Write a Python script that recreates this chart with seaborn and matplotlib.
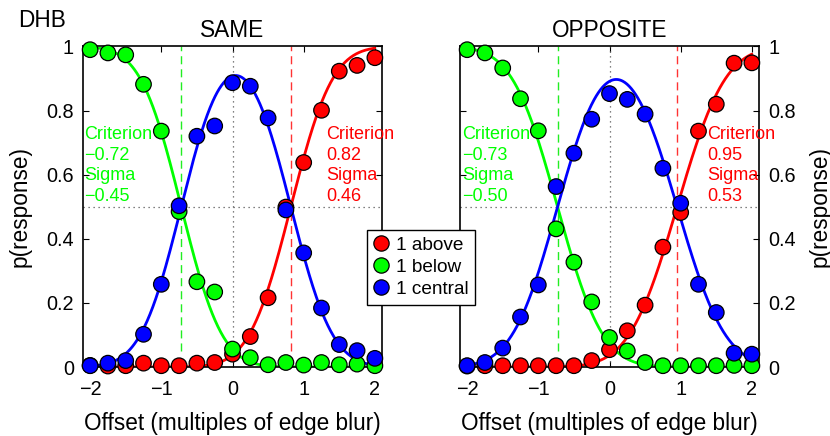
import math
import numpy as np
import pandas as pd
import matplotlib
matplotlib.use("Agg")
import matplotlib.pyplot as plt
from matplotlib.lines import Line2D
import seaborn as sns

# Stimulus offsets (multiples of edge blur) at which responses were collected
offsets = [-2.0, -1.75, -1.5, -1.25, -1.0, -0.75, -0.5, -0.25, 0.0,
           0.25, 0.5, 0.75, 1.0, 1.25, 1.5, 1.75, 2.0]

conditions = ["SAME", "OPPOSITE"]
response_labels = ["1 above", "1 below", "1 central"]
response_colors = ["#ff0000", "#00ff00", "#0000ff"]

# Observed proportions, SAME condition
same_above = [0.005, 0.003, 0.004, 0.012, 0.004, 0.004, 0.012, 0.014, 0.040,
              0.095, 0.216, 0.499, 0.638, 0.801, 0.923, 0.941, 0.965]
same_below = [0.990, 0.980, 0.974, 0.882, 0.736, 0.485, 0.266, 0.234, 0.056,
              0.029, 0.007, 0.014, 0.006, 0.014, 0.007, 0.009, 0.004]
same_central = [0.004, 0.012, 0.020, 0.102, 0.258, 0.503, 0.720, 0.752, 0.887,
                0.876, 0.777, 0.490, 0.356, 0.184, 0.070, 0.051, 0.027]

# Observed proportions, OPPOSITE condition
opp_above = [0.003, 0.004, 0.004, 0.004, 0.004, 0.004, 0.004, 0.020, 0.054,
             0.113, 0.193, 0.374, 0.482, 0.736, 0.820, 0.948, 0.949]
opp_below = [0.990, 0.980, 0.933, 0.837, 0.737, 0.431, 0.327, 0.203, 0.092,
             0.050, 0.014, 0.004, 0.004, 0.004, 0.004, 0.005, 0.004]
opp_central = [0.004, 0.014, 0.059, 0.156, 0.256, 0.563, 0.667, 0.773, 0.853,
               0.835, 0.789, 0.620, 0.511, 0.258, 0.170, 0.043, 0.040]

# Fitted cumulative-Gaussian parameters per condition
criterion_above = [0.82, 0.95]
sigma_above = [0.46, 0.53]
criterion_below = [-0.72, -0.73]
sigma_below = [-0.45, -0.50]

observed = {
    "SAME": [same_above, same_below, same_central],
    "OPPOSITE": [opp_above, opp_below, opp_central],
}

x_ticks = [-2, -1, 0, 1, 2]
y_ticks = [0, 0.2, 0.4, 0.6, 0.8, 1]
y_tick_labels = ["0", "0.2", "0.4", "0.6", "0.8", "1"]

_erf = np.vectorize(math.erf)


def norm_cdf(z):
    return 0.5 * (1.0 + _erf(np.asarray(z) / math.sqrt(2.0)))


def fmt(v):
    s = f"{v:.2f}"
    return s.replace("-", "\u2212")


sns.set_style("ticks")
plt.rcParams["font.family"] = ["Liberation Sans", "DejaVu Sans"]
plt.rcParams["axes.unicode_minus"] = True
plt.rcParams["text.color"] = "black"
plt.rcParams["axes.labelcolor"] = "black"
plt.rcParams["xtick.color"] = "black"
plt.rcParams["ytick.color"] = "black"

fig = plt.figure(figsize=(8.3, 4.36), dpi=100)
ax_w, ax_h = 299 / 830, 320.5 / 436
ax_b = 1 - 367 / 436
axes = [fig.add_axes([83 / 830, ax_b, ax_w, ax_h]),
        fig.add_axes([460 / 830, ax_b, ax_w, ax_h])]

x_fine = np.linspace(-2.0, 2.0, 400)
text_x_below = [-2.08, -2.07]
text_x_above = [1.31, 1.37]

for i, (ax, cond) in enumerate(zip(axes, conditions)):
    above_fit = norm_cdf((x_fine - criterion_above[i]) / sigma_above[i])
    below_fit = norm_cdf((x_fine - criterion_below[i]) / sigma_below[i])
    central_fit = 1.0 - above_fit - below_fit

    # reference lines
    ax.axhline(0.5, color="0.35", lw=0.9, ls=(0, (1, 3)), zorder=1)
    ax.axvline(0.0, color="0.35", lw=0.9, ls=(0, (1, 3)), zorder=1)
    ax.vlines(criterion_below[i], 0.05, 1.0, color="#22ee22", lw=1.0,
              linestyles=(0, (5.8, 3.6)), zorder=1)
    ax.vlines(criterion_above[i], 0.05, 1.0, color="#ff3333", lw=1.0,
              linestyles=(0, (5.8, 3.6)), zorder=1)

    for fit, col in zip([above_fit, below_fit, central_fit], response_colors):
        sns.lineplot(x=x_fine, y=fit, color=col, lw=2.0, ax=ax, zorder=2)

    rows = []
    for lab, vals in zip(response_labels, observed[cond]):
        for xv, yv in zip(offsets, vals):
            rows.append({"offset": xv, "p": yv, "response": lab})
    df = pd.DataFrame(rows)
    sns.scatterplot(data=df, x="offset", y="p", hue="response",
                    hue_order=response_labels, palette=response_colors,
                    s=125, edgecolor="black", linewidth=0.9, legend=False,
                    ax=ax, zorder=3, clip_on=False)

    # criterion / sigma annotations
    below_lines = ["Criterion", fmt(criterion_below[i]), "Sigma", fmt(sigma_below[i])]
    above_lines = ["Criterion", fmt(criterion_above[i]), "Sigma", fmt(sigma_above[i])]
    for k in range(4):
        yb = 0.711 - 0.064 * k
        ax.text(text_x_below[i], yb, below_lines[k], color="#00ff00",
                fontsize=13, ha="left", va="baseline", zorder=4)
        ax.text(text_x_above[i], yb, above_lines[k], color="#ff0000",
                fontsize=13, ha="left", va="baseline", zorder=4)

    ax.set_xlim(-2.1, 2.1)
    ax.set_ylim(0, 1)
    ax.set_xticks(x_ticks)
    ax.set_yticks(y_ticks)
    ax.set_yticklabels(y_tick_labels)
    ax.tick_params(direction="in", top=True, right=True, bottom=True, left=True,
                   length=4, width=0.8, labelsize=14.3, colors="black")
    ax.tick_params(axis="x", pad=9.5)
    ax.tick_params(axis="y", pad=6.5)
    for sp in ax.spines.values():
        sp.set_visible(True)
        sp.set_linewidth(1.2)
        sp.set_color("black")
    ax.set_title(cond, fontsize=16.3, pad=6.5)
    ax.set_xlabel("Offset (multiples of edge blur)", fontsize=16.3, labelpad=9)
    ax.set_ylabel("")

axes[1].tick_params(labelleft=False, labelright=True)

fig.text(20 / 830, 1 - 206.8 / 436, "p(response)", rotation=90,
         ha="center", va="center", fontsize=16.3)
fig.text(820 / 830, 1 - 206.8 / 436, "p(response)", rotation=90,
         ha="center", va="center", fontsize=16.3)
fig.text(18 / 830, 1 - 27.3 / 436, "DHB", ha="left", va="baseline", fontsize=16.3)

handles = [Line2D([], [], marker="o", ls="none", markersize=11,
                  markerfacecolor=c, markeredgecolor="black", markeredgewidth=0.9)
           for c in response_colors]
leg = fig.legend(handles, response_labels, loc="upper left",
                 bbox_to_anchor=(367 / 830, 1 - 230 / 436), fontsize=13.7,
                 frameon=True, fancybox=False, framealpha=1, edgecolor="black",
                 handlelength=0.8, handletextpad=0.35, labelspacing=0.25,
                 borderpad=0.35, borderaxespad=0)
leg.get_frame().set_linewidth(1.0)
leg.set_zorder(10)

fig.savefig("out.png", dpi=100)
